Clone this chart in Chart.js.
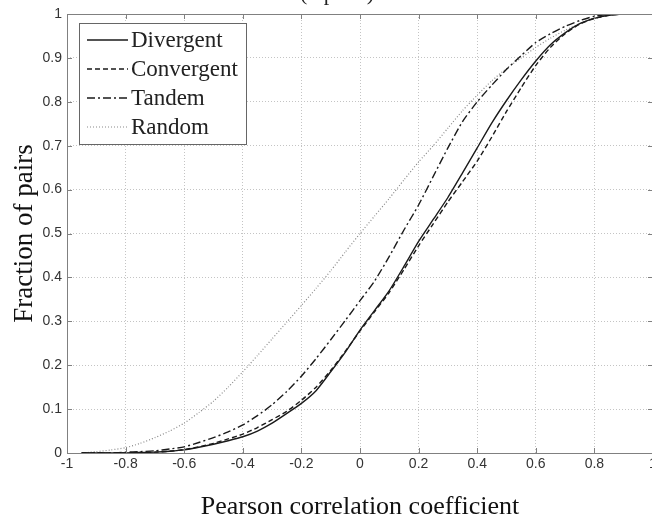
<!DOCTYPE html>
<html>
<head>
<meta charset="utf-8">
<script src="https://cdn.jsdelivr.net/npm/chart.js@4/dist/chart.umd.min.js"></script>
<style>
  html, body { margin: 0; padding: 0; background: #fff; overflow: hidden; }
  #wrap { width: 652px; height: 527px; overflow: hidden; }
</style>
</head>
<body>
<div id="wrap"><canvas id="myChart" width="660" height="527"></canvas></div>
<script>
// Pearson correlation coefficient (x) for every series
var corr = [-0.95, -0.9, -0.85, -0.8, -0.75, -0.7, -0.65, -0.6, -0.55, -0.5, -0.45, -0.4, -0.35, -0.3,
  -0.25, -0.2, -0.15, -0.1, -0.05, 0, 0.05, 0.1, 0.15, 0.2, 0.25, 0.3, 0.35, 0.4, 0.45, 0.5, 0.55,
  0.6, 0.65, 0.7, 0.75, 0.8, 0.85, 0.9, 0.95];

// fraction of pairs (cumulative)
var divergent = [0, 0, 0, 0, 0.001, 0.002, 0.004, 0.007, 0.013, 0.02, 0.028, 0.037, 0.05, 0.068,
  0.09, 0.113, 0.142, 0.185, 0.23, 0.28, 0.325, 0.37, 0.425, 0.482, 0.532, 0.582, 0.638, 0.695, 0.752, 0.803, 0.85,
  0.893, 0.93, 0.957, 0.978, 0.99, 0.997, 1, 1];
var convergent = [0, 0, 0, 0, 0.001, 0.002, 0.004, 0.008, 0.014, 0.022, 0.032, 0.043, 0.058, 0.076,
  0.095, 0.12, 0.15, 0.188, 0.232, 0.278, 0.322, 0.366, 0.418, 0.472, 0.522, 0.572, 0.618, 0.665, 0.72, 0.778, 0.832,
  0.883, 0.924, 0.955, 0.977, 0.99, 0.997, 1, 1];
var tandem = [0, 0, 0, 0.002, 0.003, 0.005, 0.009, 0.014, 0.024, 0.035, 0.048, 0.064, 0.085, 0.11,
  0.14, 0.175, 0.215, 0.258, 0.302, 0.347, 0.392, 0.448, 0.508, 0.565, 0.63, 0.695, 0.755, 0.8, 0.838, 0.874, 0.905,
  0.935, 0.955, 0.972, 0.985, 0.995, 0.999, 1, 1];
var random = [0, 0.003, 0.007, 0.012, 0.022, 0.035, 0.05, 0.068, 0.092, 0.118, 0.15, 0.185, 0.222, 0.26,
  0.298, 0.336, 0.375, 0.415, 0.458, 0.5, 0.54, 0.58, 0.622, 0.663, 0.7, 0.74, 0.78, 0.815, 0.848, 0.876, 0.9,
  0.924, 0.945, 0.963, 0.978, 0.99, 0.997, 1, 1];

var seriesNames = ['Divergent', 'Convergent', 'Tandem', 'Random'];
var xTicks = [-1, -0.8, -0.6, -0.4, -0.2, 0, 0.2, 0.4, 0.6, 0.8, 1];
var yTicks = [0, 0.1, 0.2, 0.3, 0.4, 0.5, 0.6, 0.7, 0.8, 0.9, 1];
var topTitle = '(n pairs)';

function toPoints(ys) {
  var pts = [];
  for (var i = 0; i < corr.length; i++) pts.push({x: corr[i], y: ys[i]});
  return pts;
}

function fmt(v) {
  var r = Math.round(v * 10) / 10;
  return String(r);
}

// frame, inward ticks, legend box, clipped title
var decor = {
  id: 'decor',
  afterDraw: function(chart) {
    var ctx = chart.ctx, a = chart.chartArea;
    var xs = chart.scales.x, ys = chart.scales.y;
    ctx.save();
    ctx.strokeStyle = '#808080';
    ctx.lineWidth = 1;
    ctx.setLineDash([]);
    ctx.strokeRect(Math.round(a.left) + 0.5, Math.round(a.top) + 0.5, a.right - a.left, a.bottom - a.top);
    ctx.beginPath();
    xTicks.forEach(function(v) {
      var px = Math.round(xs.getPixelForValue(v)) + 0.5;
      ctx.moveTo(px, a.top); ctx.lineTo(px, a.top + 5);
      ctx.moveTo(px, a.bottom); ctx.lineTo(px, a.bottom - 5);
    });
    yTicks.forEach(function(v) {
      var py = Math.round(ys.getPixelForValue(v)) + 0.5;
      ctx.moveTo(a.left, py); ctx.lineTo(a.left + 5, py);
      ctx.moveTo(a.right, py); ctx.lineTo(a.right - 5, py);
    });
    ctx.stroke();

    // legend
    var bx = 79.5, by = 23.5, bw = 167, bh = 121;
    ctx.fillStyle = '#fff';
    ctx.fillRect(bx, by, bw, bh);
    ctx.strokeStyle = '#666';
    ctx.strokeRect(bx, by, bw, bh);
    ctx.font = '23px "Liberation Serif", "Times New Roman", serif';
    ctx.textBaseline = 'middle';
    ctx.textAlign = 'left';
    chart.data.datasets.forEach(function(ds, i) {
      var cy = 40 + i * 29;
      ctx.beginPath();
      ctx.strokeStyle = ds.borderColor;
      ctx.lineWidth = ds.borderWidth;
      ctx.setLineDash(ds.borderDash || []);
      ctx.moveTo(87, cy); ctx.lineTo(128, cy);
      ctx.stroke();
      ctx.setLineDash([]);
      ctx.fillStyle = '#222';
      ctx.fillText(ds.label, 131, cy + 1);
    });

    // title above the axes, cut off by the top of the picture
    ctx.font = '22px "Liberation Serif", "Times New Roman", serif';
    ctx.textAlign = 'center';
    ctx.textBaseline = 'alphabetic';
    ctx.fillStyle = '#222';
    ctx.fillText(topTitle, 337, 0);
    ctx.restore();
  }
};

var ink = '#1a1a1a';
var datasets = [
  {label: seriesNames[0], data: toPoints(divergent), borderColor: ink, borderWidth: 1.4, borderDash: []},
  {label: seriesNames[1], data: toPoints(convergent), borderColor: ink, borderWidth: 1.4, borderDash: [5, 3]},
  {label: seriesNames[2], data: toPoints(tandem), borderColor: ink, borderWidth: 1.4, borderDash: [8, 3, 2, 3]},
  {label: seriesNames[3], data: toPoints(random), borderColor: '#8a8a8a', borderWidth: 1.2, borderDash: [1, 2]}
];

var ctx = document.getElementById('myChart');
var chart = new Chart(ctx, {
  type: 'line',
  data: {datasets: datasets},
  options: {
    responsive: false,
    animation: false,
    devicePixelRatio: 1,
    elements: {point: {radius: 0}, line: {tension: 0.2, fill: false}},
    layout: {padding: {top: 14, right: 7, left: 0, bottom: 0}},
    plugins: {legend: {display: false}, tooltip: {enabled: false}},
    scales: {
      x: {
        type: 'linear', min: -1, max: 1,
        afterFit: function(s) { s.height = 74; },
        afterBuildTicks: function(s) { s.ticks = xTicks.map(function(v) { return {value: v}; }); },
        ticks: {
          padding: 3, color: '#333', maxRotation: 0, autoSkip: false,
          font: {family: '"Liberation Sans", Arial, sans-serif', size: 14},
          callback: function(v) { return fmt(v); }
        },
        grid: {color: '#c4c4c4', lineWidth: 1, drawTicks: false},
        border: {display: false, dash: [1, 2]},
        title: {
          display: true, text: 'Pearson correlation coefficient', color: '#111',
          font: {family: '"Liberation Serif", "Times New Roman", serif', size: 26},
          padding: {top: 0, bottom: 4}
        }
      },
      y: {
        min: 0, max: 1,
        afterFit: function(s) { s.width = 67; },
        afterBuildTicks: function(s) { s.ticks = yTicks.map(function(v) { return {value: v}; }); },
        ticks: {
          padding: 5, color: '#333',
          font: {family: '"Liberation Sans", Arial, sans-serif', size: 14},
          callback: function(v) { return fmt(v); }
        },
        grid: {color: '#c4c4c4', lineWidth: 1, drawTicks: false},
        border: {display: false, dash: [1, 2]},
        title: {
          display: true, text: 'Fraction of pairs', color: '#111',
          font: {family: '"Liberation Serif", "Times New Roman", serif', size: 27},
          padding: {top: 9, bottom: 0}
        }
      }
    }
  },
  plugins: [decor]
});
</script>
</body>
</html>
